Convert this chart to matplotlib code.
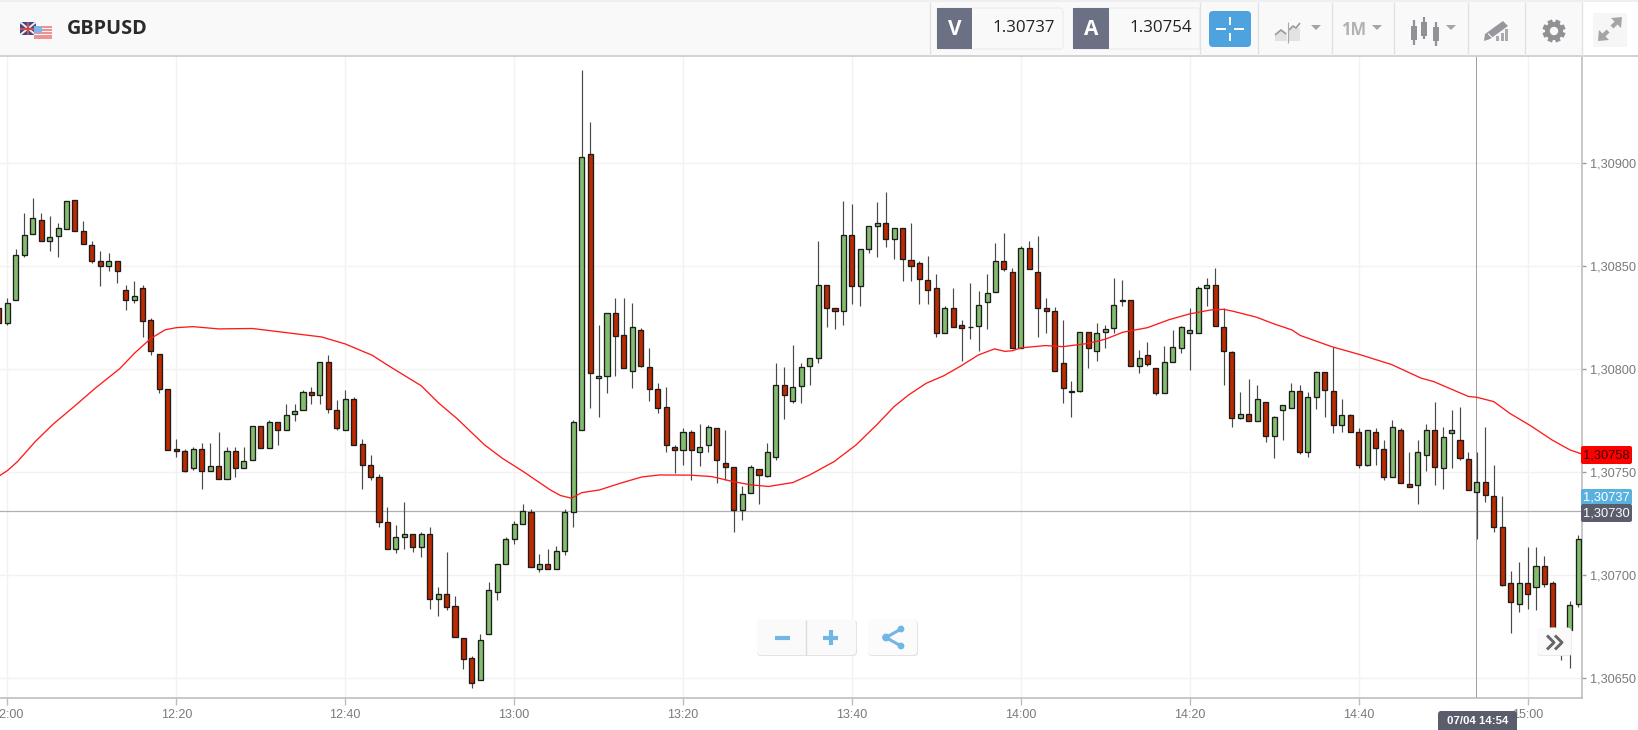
import math
import matplotlib
matplotlib.use("Agg")
import matplotlib.pyplot as plt
from matplotlib.patches import FancyBboxPatch, Rectangle, Polygon, Circle

symbol = "GBPUSD"
bid_label, ask_label = "1.30737", "1.30754"
ma_label, ask_tag, last_tag = "1,30758", "1,30737", "1,30730"
cursor_label = "07/04 14:54"
resolution = "1M"

# Prices in points above 1.30000; minute index counted from 12:00
minute = list(range(-1, 187))
opens = [829.6,822.4,833.4,855.7,865.6,872.3,862.5,864.6,868.3,882.1,867.3,860.2,852.4,849.9,852.6,838.4,833.5,839.5,823.8,807.3,
790.3,761.3,760.2,752,761.5,750.8,752.8,746.6,760.2,752,755.8,772.3,762,774.6,770.7,778.2,780,788.8,787.5,803.4,
780.4,770.7,785.4,763.6,753.7,747.7,725.7,712.6,718.8,719.9,713.8,719.9,688.7,691,684.9,669.6,659.7,648.9,671.7,692.1,
705.7,717.6,724.8,730.8,703,705.5,702.9,711.7,730.6,770.7,904.4,796,796.9,827.5,816.5,799.3,819.3,801.3,790.3,781.6,
762.5,760.7,769.6,759.7,763,771.7,754.4,752.6,731.9,740.1,751.5,748.4,757.5,792.6,784.6,791.9,801.8,805.7,841.1,829.6,
828.5,865,840.6,858.6,869.4,871.2,863.4,868.4,853,851.4,843.2,839.5,817.5,829.6,821.5,820.3,820.9,832.8,837.7,852.4,
847,810.5,859,847,829.6,828.5,803.2,789,789.6,818.1,808.8,818.1,819.8,833.3,833.5,801.8,806.8,800.7,788.6,803.7,
810.5,817.5,817.5,839.3,841.1,820.4,808.4,776.5,778.3,775.1,784.3,767.8,780.1,781.4,789.3,759.6,786.4,798.5,789.3,772.8,
777.7,769.6,753.6,769.6,761.3,747.6,770.7,744.5,743.9,758.6,770.7,752,768.9,765.9,756.5,740.5,745.5,738.4,723.6,696,
686.1,696,694.2,704.7,696,668,673.4,685.9]
highs = [836.1,834.5,858.4,876.1,883,876.1,874.5,870.9,881.6,882.1,872.2,862.2,857.3,856.3,852.6,841,843,840.8,825.1,807.3,
790.3,766,761.2,762.1,764.4,764.4,769.4,762.5,762.1,762.5,772.3,772.3,775.4,774.6,783,783,790,791.3,803.4,807,
785.1,790,786.3,766,758.4,749.2,733.3,724.4,735.5,719.9,721.2,723.6,694.5,711.5,689.7,669.6,660.9,671.5,696.8,705.7,
718.5,726.2,734.6,732.2,710.4,712.6,714.3,732,775.4,945.3,920.2,821.4,827.5,834.5,834.5,832.4,819.9,810.5,793.5,791.3,
763.3,771.4,770.5,773.3,773,771.7,770.5,752.6,743.4,753.6,751.5,764.4,803.2,801,811.8,803.2,805.7,862.1,841.1,829.6,
881.9,880.2,858.6,869.4,881.4,886.2,868.4,868.4,871,852.7,855.2,846.4,830.9,839.3,823.9,842,838.2,846.3,861.2,866,
849,860,862.1,864.9,834.5,830.1,823.9,794.5,818.1,818.1,822.7,821.4,844.2,843.4,833.5,809.4,813.1,800.7,811.4,819.1,
821.1,829.6,840.2,844.2,849,829.6,809,789.2,795.2,792.4,784.3,777.4,782.7,793.5,792.4,789.2,799.4,798.5,811,785.4,
778.3,771.4,770.7,771.4,765.7,775.4,771.4,759.6,765.7,773.3,784.3,771.9,780.3,781.6,760,760,772.2,753.6,738.4,702.3,
706.6,713.8,713.8,709.4,697.3,672,687.7,719.6]
lows = [822.4,821.5,833.4,854.7,865.6,862.5,857.6,854.7,868.3,866.9,860.7,851.5,840.6,847.9,841.8,828.8,832,815.6,806.8,788.7,
760.9,757.6,750,751.1,741.8,750.8,746.6,746.6,747.9,752,755.8,762,762,763.4,770.7,775.1,780,782.9,782.9,779,
770.7,770.7,763.4,741.8,746,723.2,712.6,711,712.6,711.5,709.1,683.8,680,682.9,670.2,654.7,645.2,648.9,671.7,688,
705.7,715.2,724.8,703.9,701.8,703,702.9,710,723.2,770.7,781.1,776.7,788.7,796.9,800.6,790.8,801,784.8,779,759.6,
749.8,753.6,746,752.8,759.6,745,746,721,726.9,740.1,734.6,747.9,756,775.7,783.8,783.8,792.4,803,820.7,819.7,
821.4,831.7,830.7,856.3,854.7,859.5,853.6,842.7,842.7,831.7,831.7,815.5,817.5,820.7,804,814.7,808.9,819.7,837.7,847.7,
810.5,810.5,848.7,815.5,817.5,799.3,783.8,776.7,788.8,800.8,803.9,810.4,817.8,830.8,801.8,798.4,801.8,787.7,788.6,803.7,
807.8,799.7,817.5,830.8,820.9,792.4,771.9,775.9,775.1,775.1,764.6,757.1,765.7,781.4,758.9,757.6,780.9,776.7,769,769.6,
769.4,752.3,752.8,753.6,746,747.6,745,743,734.6,750.8,743.9,741.8,752,756,741.6,717.7,735.8,721,694.8,671.9,
682.2,683.8,682.9,694.2,664,659,654.9,684.8]
closes = [822.4,832.4,855.4,865.1,873.3,862.5,864.1,868.5,881.6,866.9,860.7,852.4,849.9,852.6,847.6,833.5,835.8,823.6,808.8,790.6,
760.9,760.2,750.8,761.5,750.8,752.8,746.6,760.2,752,755.4,772.3,762,774.6,770.7,777.7,779.5,788.8,787.5,803.4,780.9,
771.5,785.4,763.4,753.7,747.6,725.7,712.6,718.8,719.9,713.8,719.9,688.7,691,684.8,670.2,659.1,647.8,668.5,692.6,705.7,
717.8,724.8,731.4,703.9,705.7,703,711.7,730.9,774.6,903.2,798.4,796.5,827.5,816.3,800.6,820.4,801.6,790.6,781.4,763,
760.7,769.6,760.7,762.5,771.9,755.8,752.6,731.9,739.6,752.6,748.9,759.7,792.6,787.5,791.3,801.3,805.7,841.1,829.6,828.5,
865,840.6,858.6,869.4,871.2,863.4,868.4,853.6,850.2,843.7,838.3,817.5,829.6,820.7,820.2,820.4,831.2,837.2,852.4,848.7,
810.5,859,848.7,829.6,828.5,799.3,790.8,789.4,818.1,810.5,817.5,819.4,831.4,833.5,801.8,805.7,802.6,788.6,803.4,810.7,
820.4,819.3,839.7,841.1,820.9,808.8,776.5,778.3,775.1,785.4,767.8,776.7,782.7,789.3,759.6,786.4,798.5,789.7,772.8,777.7,
769.4,753.6,770.7,762,747.6,771.9,745,743,759.7,770.7,752.6,767.3,770.7,757,741.6,745.5,738.9,723.6,695.5,687.1,
696,690.8,704.7,695.8,668,664,685.6,717.8]

ma_minute = [-0.9,0,1.2,3.3,5.4,7.9,10.4,13.3,15.1,17,18.7,20,22,25,29,32.4,37.2,40,43.2,44.9,49,51.1,53.2,56.5,58.6,61.1,
63,64.3,65.5,66.8,68,70.1,72.6,75.1,77.2,80.9,83.4,85.9,88,90.1,93,95,97.9,100.5,103,105,106.7,108.8,110.9,112.9,115,
116.9,118.1,119,120,122.9,125,127.9,130,132.1,135,137.5,140,142.5,144,145,147.9,150,152.1,153.1,156.8,160,163.9,167.4,
168.9,173,174,176,177.9,180.4,182.9,185,186.4]
ma_value = [748.4,750.8,755.2,764.9,773.3,781.9,790.8,800.3,808,815,819.2,820.2,820.7,819.6,819.8,818.1,815.7,812.3,806.8,802.3,
792,783.5,776.2,763.3,756.8,750.3,745,741.4,738.7,737.4,740.1,741.4,744.7,747.7,748.7,748.6,747.9,745.5,743.9,743.1,745,748.7,
755.2,763.3,773.3,781.9,787.5,793.2,796.9,801.6,807,809.9,808.7,809,810.4,811.5,811,812.5,814.6,818,820.2,824,826.9,828.8,
829.1,828.3,825.3,822,819.1,816.4,811,807.3,802.3,795.7,794,786.8,786.4,784.3,778.6,772.5,765.7,760.9,758.9]

time_ticks = [0,20,40,60,80,100,120,140,160,180]
time_labels = ["12:00","12:20","12:40","13:00","13:20","13:40","14:00","14:20","14:40","15:00"]
price_ticks = [650,700,750,800,850,900]
price_labels = ["1,30650","1,30700","1,30750","1,30800","1,30850","1,30900"]
cursor_minute, cursor_price = 173.9, 731

W, H = 1638, 730
GREEN, RED = "#84bd6f", "#bb2a00"
fig = plt.figure(figsize=(W/100, H/100), dpi=100, facecolor="white")
sans = ["Liberation Sans", "DejaVu Sans"]
ui = ["Open Sans", "DejaVu Sans"]

# ------- chart
ax = fig.add_axes([0, (H-698)/H, 1582/W, (698-56)/H], facecolor="white")
ax.set_xlim(-0.876, 186.45)
ax.set_ylim(640.4, 952.1)
ax.set_xticks(time_ticks, time_labels, family=sans, fontsize=9, color="#7a7a7a")
ax.set_yticks(price_ticks, price_labels, family=sans, fontsize=9.2, color="#7a7a7a")
ax.yaxis.tick_right()
ax.tick_params(axis="x", length=5, width=1, color="#bdbdbd", pad=3)
ax.tick_params(axis="y", length=3, width=1, color="#9a9a9a", pad=3)
ax.grid(True, color="#f2f2f2", lw=1)
ax.set_axisbelow(True)
for s in ("top", "left"):
    ax.spines[s].set_visible(False)
for s in ("right", "bottom"):
    ax.spines[s].set_color("#b9b9b9")
    ax.spines[s].set_linewidth(1.1)

ax.axhline(cursor_price, color="#b0b0b0", lw=0.9, zorder=1.5)
ax.axvline(cursor_minute, color="#a0a0a0", lw=0.72, zorder=1.5)

ax.vlines(minute, lows, highs, color="#4a4a4a", lw=0.85, zorder=2)
body_colors = [GREEN if c >= o else RED for o, c in zip(opens, closes)]
ax.bar(minute, [abs(c-o) for o, c in zip(opens, closes)],
       bottom=[min(o, c) for o, c in zip(opens, closes)], width=0.6,
       color=body_colors, edgecolor="#1c1c1c", linewidth=0.95, zorder=3)
ax.plot(ma_minute, ma_value, color="#ff1a1a", lw=0.95, zorder=4)

# ------- interface overlay (pixel coordinates)
ov = fig.add_axes([0, 0, 1, 1], facecolor="none", zorder=5)
ov.set_xlim(0, W)
ov.set_ylim(H, 0)
ov.axis("off")

def rect(x0, y0, x1, y1, fc, ec="none", lw=0.8, z=1, r=0):
    if r:
        p = FancyBboxPatch((x0+r, y0+r), x1-x0-2*r, y1-y0-2*r, boxstyle=f"round,pad={r},rounding_size={r}",
                           fc=fc, ec=ec, lw=lw, zorder=z)
    else:
        p = Rectangle((x0, y0), x1-x0, y1-y0, fc=fc, ec=ec, lw=lw, zorder=z)
    ov.add_patch(p)

def seg(xs, ys, c, lw, z=4, cap="butt"):
    ov.plot(xs, ys, color=c, lw=lw, zorder=z, solid_capstyle=cap)

# header
rect(0, 1, W, 56, "#f9f9f9")
seg([0, W], [1.2, 1.2], "#ececec", 1.2)
seg([0, W], [56.3, 56.3], "#cfcfcf", 1.3)
rect(1583, 2, W, 55.5, "#ffffff", z=1.5)
for x in (930, 1200, 1258, 1332, 1394, 1468, 1525, 1582):
    seg([x, x], [2, 56], "#e2e2e2", 1)

# flags
rect(20, 22, 36, 35, "#3b4a86", z=3)
seg([20, 36], [22, 35], "#eeeeee", 1.4)
seg([20, 36], [35, 22], "#eeeeee", 1.4)
seg([28, 28], [22, 35], "#d04a50", 1.6)
seg([20, 36], [28.5, 28.5], "#d04a50", 1.6)
rect(34, 26, 52, 39, "#f4f4f4", z=5)
for y in (27, 30, 33, 36, 38.4):
    seg([34, 52], [y, y], "#ee7f80", 1.2, z=6)
rect(34, 26, 42, 33, "#7fb6ea", z=7)

ov.text(67, 29, symbol, family=ui, weight="bold", fontsize=14.3, color="#2a2a2a", va="center", ha="left")

# bid / ask
for x0, x1, x2, letter, val in ((937, 972, 1063, "V", bid_label), (1073, 1109, 1200, "A", ask_label)):
    rect(x0, 8, x2, 49, "#f9f9f9", ec="#ececec", z=2, r=3)
    rect(x0, 8, x1, 49, "#6c7084", z=3)
    ov.text((x0+x1)/2, 29.5, letter, family=ui, weight="bold", fontsize=15, color="white", ha="center", va="center", zorder=4)
    ov.text(x2-8, 28, val, family=ui, fontsize=12.2, color="#222222", ha="right", va="center", zorder=4)

# cross button
rect(1209, 11, 1251, 47, "#4ea3de", z=3, r=4)
for xs, ys in (([1216, 1226], [29, 29]), ([1234, 1244], [29, 29]), ([1230, 1230], [17, 25]), ([1230, 1230], [33, 41])):
    seg(xs, ys, "white", 1.4)

ICON = "#a3a5a8"
# chart type icon
ov.add_patch(Polygon([(1275, 41), (1275, 34), (1281, 29), (1287, 33), (1287, 41)], fc="#e3e3e3", ec="none", zorder=3))
rect(1289, 28, 1300, 41, "#e3e3e3", z=3)
seg([1275, 1281, 1286], [35, 30, 34], "#9a9a9a", 1.2)
seg([1289, 1293, 1296, 1300], [30, 26, 28, 23], "#9a9a9a", 1.2)
seg([1287.5, 1287.5], [22, 43], "#aaaaaa", 0.8)
for x in (1316, 1377, 1451):
    ov.add_patch(Polygon([(x-5, 25), (x+5, 25), (x, 30)], fc=ICON, ec="none", zorder=4))
ov.text(1354, 30, resolution, family=ui, weight="bold", fontsize=12, color="#b0b2b4", ha="center", va="center")

# candles icon
for x, y0, y1, b0, b1 in ((1414, 20, 45, 26, 40), (1424, 17, 39, 22, 36), (1436, 22, 46, 27, 41)):
    seg([x, x], [y0, y1], "#909296", 1.6)
    rect(x-3, b0, x+3, b1, "#909296", z=4)

# drawing icon
ov.add_patch(Polygon([(1485, 34), (1503, 21), (1508, 26), (1490, 39), (1484, 41)], fc="#96989c", ec="none", zorder=4))
seg([1488, 1492], [33.5, 37.5], "#f9f9f9", 0.8, z=4.2)
for x0, y0 in ((1496, 36), (1500.5, 33), (1505, 29)):
    rect(x0, y0, x0+3.2, 41, "#a9abae", z=4)

# gear
for k in range(8):
    a = k*math.pi/4 + math.pi/8
    seg([1554, 1554+11.5*math.cos(a)], [31, 31+11.5*math.sin(a)], "#8f9194", 3.6, z=3.8)
ov.add_patch(Circle((1554, 31), 9, fc="#8f9194", ec="none", zorder=3.9))
ov.add_patch(Circle((1554, 31), 4.2, fc="#f9f9f9", ec="none", zorder=4.1))

# expand icon
rect(1593, 13, 1627, 47, "#f6f6f6", z=2)
ov.add_patch(Polygon([(1622, 17), (1611, 18), (1621, 28)], fc=ICON, ec="none", zorder=4))
ov.add_patch(Polygon([(1598, 41), (1609, 40), (1599, 30)], fc=ICON, ec="none", zorder=4))
seg([1617, 1612], [22, 27], ICON, 3)
seg([1603, 1608], [36, 31], ICON, 3)

# zoom and share buttons
rect(757, 620, 857, 656, "#e3e3e3", z=2, r=4)
rect(757, 619.5, 856, 655, "#fafafa", z=2.1, r=4)
rect(868, 620, 918, 656, "#e3e3e3", z=2, r=4)
rect(868, 619.5, 917, 655, "#fbfbfb", z=2.1, r=4)
seg([805.5, 805.5], [620, 655], "#dcdcdc", 1)
BLUE = "#71b6e4"
seg([775, 790], [637.5, 637.5], BLUE, 3)
seg([823, 838], [637.5, 637.5], BLUE, 3)
seg([830.5, 830.5], [630, 645], BLUE, 3)
seg([886, 901], [637.5, 629], BLUE, 2.2)
seg([886, 901], [637.5, 646], BLUE, 2.2)
for cx, cy, r in ((886, 637.5, 3.9), (901, 629, 3.4), (901, 646, 3.4)):
    ov.add_patch(Circle((cx, cy), r, fc=BLUE, ec="none", zorder=5))

# jump button
rect(1537, 628, 1572, 656, "#ebebeb", z=2, r=4)
rect(1537, 627.5, 1571, 655, "#fafafa", z=2.1, r=4)
seg([1547, 1554, 1547], [635.5, 642.5, 649.5], "#666666", 2.1)
seg([1555, 1562, 1555], [635.5, 642.5, 649.5], "#666666", 2.1)

# price tags
for y0, y1, fc, txt, tc, z in ((446, 464, "#ff0000", ma_label, "#3a0000", 3),
                               (489, 505, "#59b1e0", ask_tag, "white", 3),
                               (504, 522, "#5a5e6c", last_tag, "white", 3.5)):
    rect(1581, y0, 1632, y1, fc, z=z, r=2)
    ov.text(1606.5, (y0+y1)/2+0.3, txt, family=sans, fontsize=9.3, color=tc, ha="center", va="center", zorder=z+0.1)

rect(1438, 711, 1517, 734, "#5a5e6c", z=3, r=3)
ov.text(1477.5, 720.5, cursor_label, family=sans, weight="bold", fontsize=8.2, color="white", ha="center", va="center", zorder=4)

fig.savefig("out.png", dpi=100, facecolor="white")
